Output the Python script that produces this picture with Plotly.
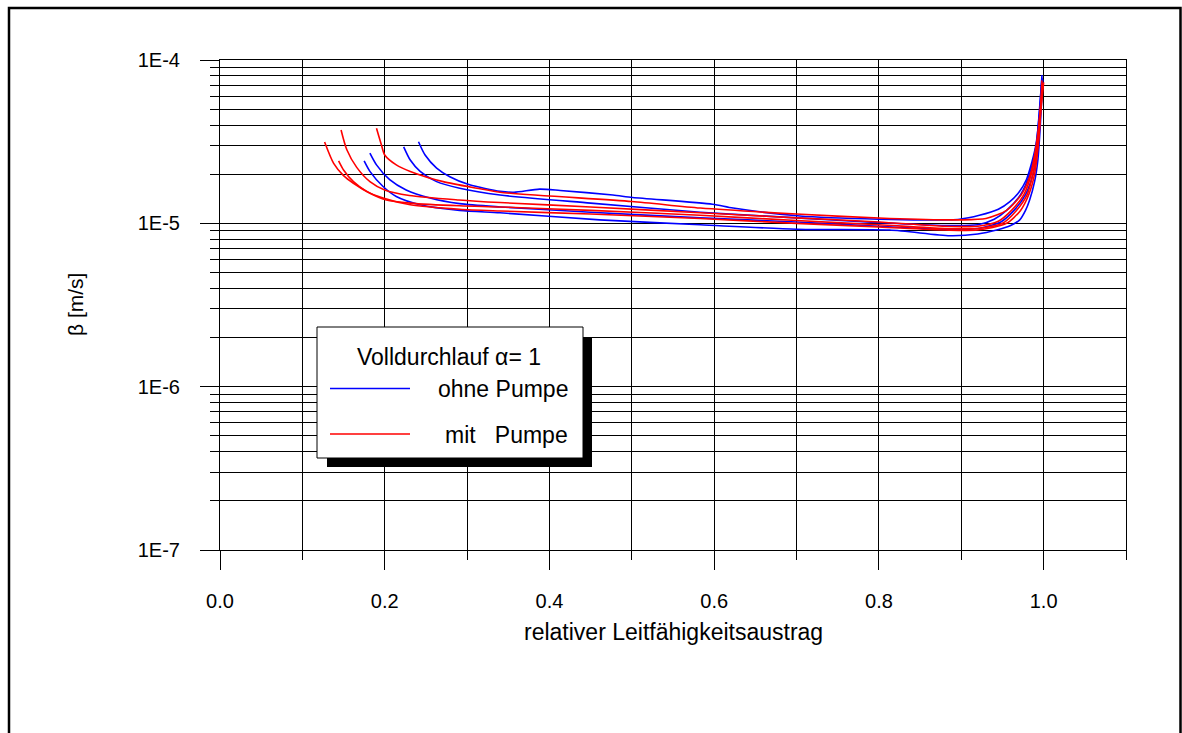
import plotly.graph_objects as go

# ---- axis ticks -------------------------------------------------------------
x_major = [0.0, 0.2, 0.4, 0.6, 0.8, 1.0]
x_major_labels = ["0.0", "0.2", "0.4", "0.6", "0.8", "1.0"]
x_minor = [0.1, 0.3, 0.5, 0.7, 0.9, 1.1]
y_decades = [1e-7, 1e-6, 1e-5, 1e-4]
y_decade_labels = ["1E-7", "1E-6", "1E-5", "1E-4"]
y_minor = [k * 10.0 ** e for e in (-7, -6, -5) for k in range(2, 10)]

# ---- measured runs: relative conductivity discharge vs. beta [m/s] ----------
# ohne Pumpe (without pump)
ohne1_x = [0.175, 0.182, 0.198, 0.214, 0.243, 0.291, 0.34, 0.461, 0.583, 0.70, 0.813, 0.886,
           0.92, 0.943, 0.960, 0.971, 0.978, 0.983, 0.989, 0.993, 0.996, 0.998, 0.999]
ohne1_b = [2.41e-5, 2.08e-5, 1.68e-5, 1.46e-5, 1.30e-5, 1.20e-5, 1.16e-5, 1.05e-5, 0.98e-5, 0.92e-5, 0.91e-5, 0.84e-5,
           0.86e-5, 0.91e-5, 0.97e-5, 1.05e-5, 1.2e-5, 1.39e-5, 1.8e-5, 2.44e-5, 4.0e-5, 6.3e-5, 7.6e-5]

ohne2_x = [0.182, 0.190, 0.206, 0.226, 0.255, 0.291, 0.34, 0.45, 0.583, 0.70, 0.80, 0.88,
           0.92, 0.948, 0.964, 0.978, 0.987, 0.993, 0.996, 0.998]
ohne2_b = [2.69e-5, 2.28e-5, 1.85e-5, 1.60e-5, 1.43e-5, 1.32e-5, 1.26e-5, 1.17e-5, 1.08e-5, 1.02e-5, 0.96e-5, 0.92e-5,
           0.93e-5, 1.02e-5, 1.2e-5, 1.5e-5, 2.0e-5, 3.0e-5, 5.0e-5, 7.6e-5]

ohne3_x = [0.223, 0.231, 0.243, 0.263, 0.291, 0.34, 0.45, 0.583, 0.70, 0.80, 0.88,
           0.92, 0.94, 0.955, 0.972, 0.983, 0.991, 0.995, 0.998]
ohne3_b = [2.94e-5, 2.44e-5, 2.08e-5, 1.80e-5, 1.64e-5, 1.49e-5, 1.33e-5, 1.17e-5, 1.08e-5, 1.01e-5, 0.97e-5,
           0.98e-5, 1.06e-5, 1.2e-5, 1.5e-5, 2.0e-5, 3.0e-5, 5.0e-5, 7.8e-5]

ohne4_x = [0.241, 0.249, 0.263, 0.279, 0.303, 0.34, 0.357, 0.388, 0.413, 0.477, 0.501, 0.598, 0.623, 0.704,
           0.80, 0.86, 0.898, 0.922, 0.945, 0.959, 0.970, 0.979, 0.986, 0.991, 0.995, 0.998]
ohne4_b = [3.16e-5, 2.62e-5, 2.18e-5, 1.93e-5, 1.72e-5, 1.57e-5, 1.55e-5, 1.62e-5, 1.59e-5, 1.49e-5, 1.44e-5, 1.31e-5, 1.24e-5, 1.11e-5,
           1.06e-5, 1.05e-5, 1.06e-5, 1.12e-5, 1.22e-5, 1.36e-5, 1.55e-5, 1.85e-5, 2.4e-5, 3.1e-5, 4.8e-5, 8.1e-5]

# mit Pumpe (with pump)
mit1_x = [0.127, 0.138, 0.150, 0.162, 0.182, 0.202, 0.231, 0.291, 0.34, 0.45, 0.583, 0.70, 0.80, 0.88,
          0.92, 0.95, 0.967, 0.980, 0.987, 0.993, 0.9965, 0.999]
mit1_b = [3.15e-5, 2.33e-5, 1.96e-5, 1.76e-5, 1.53e-5, 1.39e-5, 1.33e-5, 1.28e-5, 1.26e-5, 1.20e-5, 1.12e-5, 1.04e-5, 0.98e-5, 0.93e-5,
          0.93e-5, 1.0e-5, 1.2e-5, 1.5e-5, 2.0e-5, 3.0e-5, 5.0e-5, 7.0e-5]

mit2_x = [0.144, 0.150, 0.162, 0.178, 0.198, 0.231, 0.291, 0.34, 0.45, 0.583, 0.70, 0.80, 0.88,
          0.92, 0.955, 0.972, 0.982, 0.989, 0.9935, 0.9968, 1.0]
mit2_b = [2.41e-5, 2.12e-5, 1.80e-5, 1.57e-5, 1.43e-5, 1.30e-5, 1.22e-5, 1.19e-5, 1.14e-5, 1.07e-5, 1.00e-5, 0.95e-5, 0.91e-5,
          0.91e-5, 1.0e-5, 1.2e-5, 1.5e-5, 2.0e-5, 3.0e-5, 5.0e-5, 7.3e-5]

mit3_x = [0.147, 0.154, 0.166, 0.182, 0.20, 0.23, 0.29, 0.34, 0.45, 0.583, 0.70, 0.80, 0.88,
          0.92, 0.945, 0.961, 0.976, 0.985, 0.992, 0.996, 0.999]
mit3_b = [3.73e-5, 2.82e-5, 2.2e-5, 1.8e-5, 1.6e-5, 1.48e-5, 1.39e-5, 1.34e-5, 1.26e-5, 1.16e-5, 1.08e-5, 1.02e-5, 0.96e-5,
          0.96e-5, 1.03e-5, 1.2e-5, 1.5e-5, 2.0e-5, 3.0e-5, 5.0e-5, 7.2e-5]

mit4_x = [0.190, 0.196, 0.200, 0.214, 0.231, 0.271, 0.312, 0.34, 0.50, 0.583, 0.70, 0.813, 0.898,
          0.93, 0.955, 0.973, 0.984, 0.991, 0.996, 0.998]
mit4_b = [3.82e-5, 3.02e-5, 2.62e-5, 2.28e-5, 2.08e-5, 1.80e-5, 1.64e-5, 1.55e-5, 1.36e-5, 1.24e-5, 1.14e-5, 1.07e-5, 1.05e-5,
          1.07e-5, 1.2e-5, 1.5e-5, 2.0e-5, 3.0e-5, 5.0e-5, 7.5e-5]

ohne_runs = [(ohne1_x, ohne1_b), (ohne2_x, ohne2_b), (ohne3_x, ohne3_b), (ohne4_x, ohne4_b)]
mit_runs = [(mit1_x, mit1_b), (mit2_x, mit2_b), (mit3_x, mit3_b), (mit4_x, mit4_b)]

BLUE = "#0000FF"
RED = "#FF0000"
FONT = "Arial, Liberation Sans, sans-serif"

W, H = 1182, 733
PL, PR, PT, PB = 220, 1126, 60, 550  # plot area in pixels


def fx(px):
    return (px - PL) / (PR - PL)


def fy(py):
    return (PB - py) / (PB - PT)


fig = go.Figure()
for xs, bs in ohne_runs:
    fig.add_trace(go.Scatter(x=xs, y=bs, mode="lines",
                             line=dict(color=BLUE, width=1.6, shape="spline", smoothing=0.7),
                             showlegend=False, hoverinfo="skip"))
for xs, bs in mit_runs:
    fig.add_trace(go.Scatter(x=xs, y=bs, mode="lines",
                             line=dict(color=RED, width=1.6, shape="spline", smoothing=0.7),
                             showlegend=False, hoverinfo="skip"))

fig.update_xaxes(
    range=[0, 1.1], tickvals=x_major, ticktext=x_major_labels,
    ticks="outside", ticklen=19, tickwidth=1, tickcolor="black",
    showgrid=True, gridcolor="black", gridwidth=1, zeroline=False,
    showline=True, mirror=True, linecolor="black", linewidth=1,
    tickfont=dict(family=FONT, size=20, color="black"), ticklabelstandoff=14,
    minor=dict(tickvals=x_minor, ticks="outside", ticklen=9, tickcolor="black",
               showgrid=True, gridcolor="black", gridwidth=1),
)
fig.update_yaxes(
    type="log", range=[-7, -4], tickvals=y_decades, ticktext=y_decade_labels,
    ticks="outside", ticklen=19, tickwidth=1, tickcolor="black",
    showgrid=True, gridcolor="black", gridwidth=1, zeroline=False,
    showline=True, mirror=True, linecolor="black", linewidth=1,
    tickfont=dict(family=FONT, size=20, color="black"), ticklabelstandoff=16,
    minor=dict(tickvals=y_minor, ticks="outside", ticklen=9, tickcolor="black",
               showgrid=True, gridcolor="black", gridwidth=1),
)

shapes = [
    # outer frame
    dict(type="rect", xref="paper", yref="paper", x0=fx(9), x1=fx(1180.5), y0=fy(745), y1=fy(8),
         line=dict(color="black", width=2.5), fillcolor="rgba(0,0,0,0)", layer="above"),
    # legend shadow and box
    dict(type="rect", xref="paper", yref="paper", x0=fx(327), x1=fx(592), y0=fy(467), y1=fy(337),
         line=dict(width=0), fillcolor="black", layer="above"),
    dict(type="rect", xref="paper", yref="paper", x0=fx(317), x1=fx(583), y0=fy(458), y1=fy(327),
         line=dict(color="black", width=1), fillcolor="white", layer="above"),
    # legend line samples
    dict(type="line", xref="paper", yref="paper", x0=fx(330), x1=fx(410), y0=fy(388.5), y1=fy(388.5),
         line=dict(color=BLUE, width=1.6), layer="above"),
    dict(type="line", xref="paper", yref="paper", x0=fx(330), x1=fx(410), y0=fy(434), y1=fy(434),
         line=dict(color=RED, width=1.6), layer="above"),
]

annotations = [
    dict(text="Volldurchlauf α= 1", x=fx(449), y=fy(357), xref="paper", yref="paper",
         showarrow=False, xanchor="center", yanchor="middle",
         font=dict(family=FONT, size=23, color="black")),
    dict(text="ohne Pumpe", x=fx(570), y=fy(389), xref="paper", yref="paper",
         showarrow=False, xanchor="right", yanchor="middle",
         font=dict(family=FONT, size=23, color="black")),
    dict(text="mit   Pumpe", x=fx(570), y=fy(435), xref="paper", yref="paper",
         showarrow=False, xanchor="right", yanchor="middle",
         font=dict(family=FONT, size=23, color="black")),
    dict(text="relativer Leitfähigkeitsaustrag", x=fx(673), y=fy(632), xref="paper", yref="paper",
         showarrow=False, xanchor="center", yanchor="middle",
         font=dict(family=FONT, size=23, color="black")),
    dict(text="β [m/s]", x=fx(75), y=fy(305), xref="paper", yref="paper", textangle=-90,
         showarrow=False, xanchor="center", yanchor="middle",
         font=dict(family=FONT, size=21, color="black")),
]

fig.update_layout(
    width=W, height=H,
    margin=dict(l=PL, r=W - PR, t=PT, b=H - PB),
    paper_bgcolor="white", plot_bgcolor="white",
    shapes=shapes, annotations=annotations, showlegend=False,
)

fig.write_html("out.html")
